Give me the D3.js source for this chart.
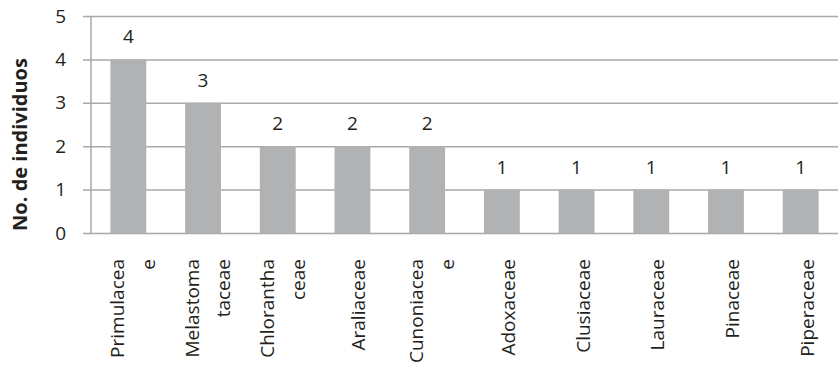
<!DOCTYPE html>
<html>
<head>
<meta charset="utf-8">
<script src="https://cdn.jsdelivr.net/npm/d3@7"></script>
<style>
  html, body { margin: 0; padding: 0; background: #fff; }
  svg { display: block; font-family: "Open Sans", "Noto Sans", sans-serif; }
</style>
</head>
<body>
<svg id="chart" width="838" height="366"></svg>
<script>
// Family names, split where the axis label wraps onto a second line
const categories = [
  ["Primulacea", "e"],
  ["Melastoma", "taceae"],
  ["Chlorantha", "ceae"],
  ["Araliaceae"],
  ["Cunoniacea", "e"],
  ["Adoxaceae"],
  ["Clusiaceae"],
  ["Lauraceae"],
  ["Pinaceae"],
  ["Piperaceae"]
];
const counts = [4, 3, 2, 2, 2, 1, 1, 1, 1, 1];
const yTicks = [0, 1, 2, 3, 4, 5];
const yTitle = "No. de individuos";

const svg = d3.select("#chart");
const plotL = 91, plotR = 838, plotT = 16, plotB = 233;
const textColor = "#231f20";
const gridColor = "#a9a9a9";

const names = categories.map(c => c.join(""));
const x = d3.scaleBand().domain(names).range([plotL, plotR]).paddingInner(0.52).paddingOuter(0.26);
const y = d3.scaleLinear().domain([0, 5]).range([plotB, plotT]);

// Horizontal gridlines with short ticks on the left
const yAxis = d3.axisLeft(y).tickValues(yTicks).tickFormat(d3.format("d"))
  .tickSize(-(plotR - plotL) - 8).tickPadding(17);
const gy = svg.append("g").attr("transform", `translate(${plotL - 8},0)`).call(yAxis);
gy.select(".domain").remove();
gy.selectAll(".tick line").attr("stroke", gridColor).attr("stroke-width", 1.5);
gy.selectAll(".tick text").attr("fill", textColor).attr("font-size", 19)
  .attr("font-family", "'Open Sans', sans-serif");

// Vertical axis line
svg.append("line").attr("x1", plotL).attr("x2", plotL).attr("y1", plotT).attr("y2", plotB)
  .attr("stroke", gridColor).attr("stroke-width", 1.5);

// Bars
svg.append("g").selectAll("rect").data(counts).join("rect")
  .attr("x", (d, i) => x(names[i]))
  .attr("width", x.bandwidth())
  .attr("y", d => y(d))
  .attr("height", d => y(0) - y(d))
  .attr("fill", "#b1b2b4");

// Value labels above bars
svg.append("g").selectAll("text").data(counts).join("text")
  .attr("x", (d, i) => x(names[i]) + x.bandwidth() / 2)
  .attr("y", d => y(d) - 16)
  .attr("text-anchor", "middle")
  .attr("fill", textColor).attr("font-size", 19)
  .text(d => d);

// Rotated category labels
const catG = svg.append("g");
categories.forEach((lines, i) => {
  const cx = x(names[i]) + x.bandwidth() / 2;
  const offsets = lines.length === 1 ? [13] : [-4, 27];
  lines.forEach((ln, j) => {
    catG.append("text")
      .attr("transform", `translate(${cx + offsets[j]},259) rotate(-90)`)
      .attr("text-anchor", "end")
      .attr("fill", textColor).attr("font-size", 19)
      .text(ln);
  });
});

// Y axis title
svg.append("text")
  .attr("transform", `translate(27,${(plotT + plotB) / 2 + 20}) rotate(-90)`)
  .attr("text-anchor", "middle")
  .attr("font-weight", "bold").attr("font-size", 20)
  .attr("fill", textColor)
  .text(yTitle);
</script>
</body>
</html>
